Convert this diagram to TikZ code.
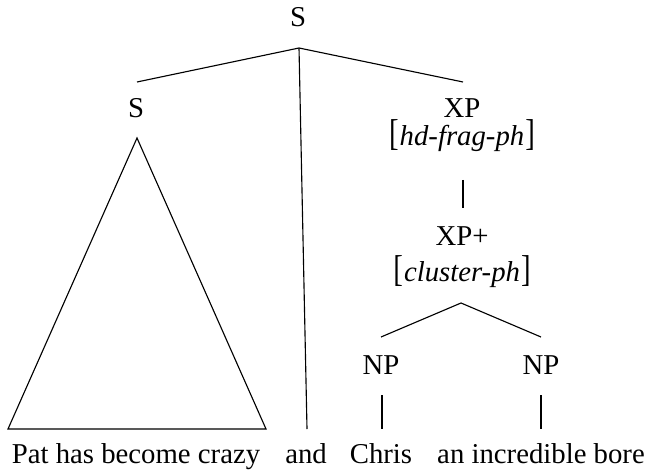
\documentclass[tikz,border=0pt]{standalone}
\usepackage{fontspec}
\setmainfont{Liberation Serif}
\usetikzlibrary{positioning}

% tall feature brackets
\newcommand{\fbrl}{\scalebox{1}[1.3]{[}\kern0.4pt}
\newcommand{\fbrr}{\/\kern0.4pt\scalebox{1}[1.3]{]}}

\begin{document}
\begin{tikzpicture}[x=0.4pt, y=-0.4pt, every node/.style={font=\fontsize{11.5}{14}\selectfont, inner sep=0pt, anchor=base}]
\tikzset{
  branch/.style={line width=0.45pt},
  feat/.style={font=\fontsize{11.5}{14}\selectfont}
}
\useasboundingbox (0,0) rectangle (650,471);

% --- ROOT ---
\node (root) at (298,27) {S};
\coordinate (root-b) at (299,48);

% --- LEFT CONJUNCT (roof) ---
\node (sl) at (136,118) {S};
\coordinate (sl-t) at (137,82);
\coordinate (roof-t) at (137,138);
\coordinate (roof-l) at (8,429);
\coordinate (roof-r) at (266,429);
\node (wpat) at (136,463) {Pat has become crazy};

% --- CONJUNCTION ---
\coordinate (and-t) at (307,429);
\node (wand) at (306,463) {and};

% --- RIGHT CONJUNCT: fragment ---
\node (xp) at (462,118) {XP};
\coordinate (xp-t) at (463,82);
\node[feat] (xpf) at (462,146) {\fbrl\textit{hd-frag-ph}\fbrr};
\coordinate (xp-b) at (463,180);
\coordinate (xpp-t) at (463,208);
\node (xpp) at (462,246) {XP+};
\node[feat] (xppf) at (462,281) {\fbrl\textit{cluster-ph}\fbrr};
\coordinate (xpp-b) at (461,303);

% --- NPs ---
\node (np1) at (381,374) {NP};
\coordinate (np1-t) at (381,337);
\coordinate (np1-b) at (382,395);
\node (np2) at (541,374) {NP};
\coordinate (np2-t) at (541,337);
\coordinate (np2-b) at (541,395);
\node (wchris) at (381,463) {Chris};
\coordinate (chris-t) at (382,429);
\node (wbore) at (541,463) {an incredible bore};
\coordinate (bore-t) at (541,429);

% --- BRANCHES ---
\draw[branch] (sl-t) -- (root-b) -- (xp-t);
\draw[branch] (root-b) -- (and-t);
\draw[branch] (roof-t) -- (roof-l) -- (roof-r) -- cycle;
\draw[branch] (xp-b) -- (xpp-t);
\draw[branch] (np1-t) -- (xpp-b) -- (np2-t);
\draw[branch] (np1-b) -- (chris-t);
\draw[branch] (np2-b) -- (bore-t);

\end{tikzpicture}
\end{document}
